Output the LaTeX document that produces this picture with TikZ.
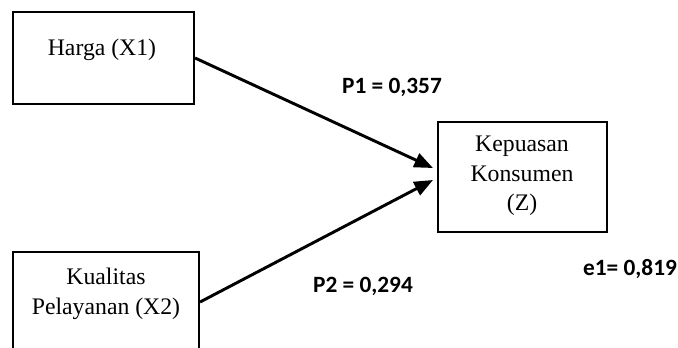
\documentclass[tikz,border=0pt]{standalone}
\usepackage{fontspec}
\setmainfont{Liberation Serif}
\newfontfamily\lblfont{Carlito}
\usetikzlibrary{arrows.meta}
\begin{document}
\begin{tikzpicture}[x=0.75pt,y=-0.75pt,
  box/.style={draw=black, line width=1.6pt, rectangle, inner sep=0pt},
  boxtext/.style={font=\fontsize{17.8}{22.2}\selectfont, align=center, inner sep=0pt},
  coef/.style={font=\lblfont\bfseries\fontsize{17.5}{20}\selectfont, inner sep=0pt},
  path/.style={line width=2.2pt, -{Triangle[length=14pt,width=11pt]}}]
\clip (0,0) rectangle (678,347);
\useasboundingbox (0,0) rectangle (678,347);
% boxes
\node[box, minimum width=181*0.75pt, minimum height=92*0.75pt] (x1) at (103.5,58) {};
\node[box, minimum width=186*0.75pt, minimum height=100*0.75pt] (x2) at (106,302) {};
\node[box, minimum width=169*0.75pt, minimum height=110*0.75pt] (z) at (522.5,177) {};
% box texts
\node[boxtext] (t1) at (102,50) {Harga (X1)};
\node[boxtext] (t2) at (106,294) {Kualitas\\Pelayanan (X2)};
\node[boxtext] (t3) at (522,176) {Kepuasan\\Konsumen\\(Z)};
% arrow tips
\coordinate (tip1) at (433,168);
\coordinate (tip2) at (433,180);
\draw[path] (x1.east) -- (tip1);
\draw[path] (x2.east) -- (tip2);
% coefficients
\node[coef] (p1) at (392,87) {P1 = 0,357};
\node[coef] (p2) at (363,286) {P2 = 0,294};
\node[coef] (e1) at (630,269) {e1= 0,819};
\end{tikzpicture}
\end{document}
